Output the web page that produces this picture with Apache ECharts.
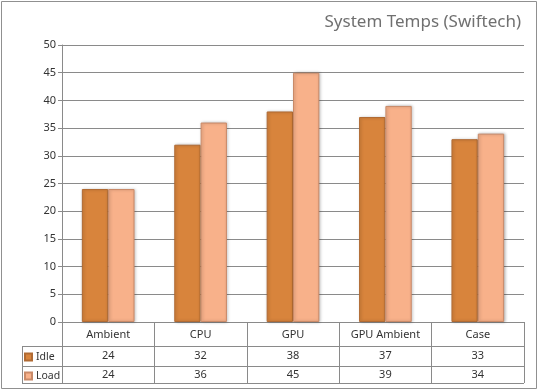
<!DOCTYPE html>
<html>
<head>
<meta charset="utf-8">
<script src="https://cdn.jsdelivr.net/npm/echarts@6/dist/echarts.min.js"></script>
<style>html,body{margin:0;padding:0;background:#fff;}#c{width:539px;height:391px;}</style>
</head>
<body>
<div id="c"></div>
<script>
const categories = ['Ambient', 'CPU', 'GPU', 'GPU Ambient', 'Case'];
const seriesNames = ['Idle', 'Load'];
const idle = [24, 32, 38, 37, 33];
const load = [24, 36, 45, 39, 34];
const yMin = 0, yMax = 50, yStep = 5;
const titleText = 'System Temps (Swiftech)';

const FONT = 'Noto Sans';
const GRID = {left: 62, right: 15, top: 45, bottom: 69};
const W = 539, H = 391;
const plotL = GRID.left, plotR = W - GRID.right, axisY = H - GRID.bottom;
const rowLines = [axisY + 24, axisY + 44, axisY + 61];
const legendL = 22;
const lineCol = '#8a8a8a';

const chart = echarts.init(document.getElementById('c'), null, {renderer: 'canvas'});

const graphic = [
  {type: 'rect', shape: {x: 1.5, y: 1.5, width: 535, height: 387}, style: {fill: 'none', stroke: '#909090', lineWidth: 1}, silent: true}
];
rowLines.forEach(y => graphic.push({type: 'line', shape: {x1: legendL, y1: y + 0.5, x2: plotR, y2: y + 0.5}, style: {stroke: lineCol, lineWidth: 1}, silent: true}));
graphic.push({type: 'line', shape: {x1: legendL + 0.5, y1: rowLines[0], x2: legendL + 0.5, y2: rowLines[2]}, style: {stroke: lineCol, lineWidth: 1}, silent: true});

chart.setOption({
  animation: false,
  backgroundColor: '#fff',
  textStyle: {fontFamily: FONT},
  title: {
    text: titleText, right: 13, top: 9,
    textStyle: {fontFamily: FONT, fontSize: 17, fontWeight: 'normal', color: '#707070'}
  },
  legend: {
    data: seriesNames, orient: 'vertical', left: legendL + 2, top: rowLines[0] + 4,
    padding: 0, itemGap: 5, itemWidth: 7, itemHeight: 7, icon: 'rect',
    textStyle: {fontSize: 10.5, color: '#333', fontFamily: FONT, lineHeight: 14, padding: [0, 0, 0, -1]}
  },
  grid: GRID,
  xAxis: [
    {
      type: 'category', data: categories, position: 'bottom',
      axisLine: {show: true, lineStyle: {color: lineCol}},
      axisTick: {show: true, length: rowLines[2] - axisY, lineStyle: {color: lineCol}},
      axisLabel: {color: '#333', fontSize: 11, margin: 7, fontFamily: FONT}
    },
    {
      type: 'category', data: idle.map(String), position: 'bottom', offset: 24,
      axisLine: {show: false}, axisTick: {show: false},
      axisLabel: {color: '#333', fontSize: 11, margin: 4, fontFamily: FONT}
    },
    {
      type: 'category', data: load.map(String), position: 'bottom', offset: 44,
      axisLine: {show: false}, axisTick: {show: false},
      axisLabel: {color: '#333', fontSize: 11, margin: 3, fontFamily: FONT}
    }
  ],
  yAxis: {
    type: 'value', min: yMin, max: yMax, interval: yStep,
    axisLine: {show: true, lineStyle: {color: lineCol}},
    axisTick: {show: true, length: 4, lineStyle: {color: lineCol}},
    axisLabel: {color: '#333', fontSize: 11, margin: 6, fontFamily: FONT},
    splitLine: {show: true, lineStyle: {color: lineCol}}
  },
  series: [
    {
      name: seriesNames[0], type: 'bar', data: idle, xAxisIndex: 0,
      barGap: '0%', barCategoryGap: '43%',
      itemStyle: {color: '#D8843C', borderColor: '#B06A33', borderWidth: 1,
        shadowBlur: 3, shadowColor: 'rgba(0,0,0,0.25)', shadowOffsetX: 1, shadowOffsetY: 0}
    },
    {
      name: seriesNames[1], type: 'bar', data: load, xAxisIndex: 0,
      barGap: '0%', barCategoryGap: '43%',
      itemStyle: {color: '#F8B18A', borderColor: '#C98A68', borderWidth: 1,
        shadowBlur: 3, shadowColor: 'rgba(0,0,0,0.25)', shadowOffsetX: 1, shadowOffsetY: 0}
    }
  ],
  graphic: graphic
});
</script>
</body>
</html>
